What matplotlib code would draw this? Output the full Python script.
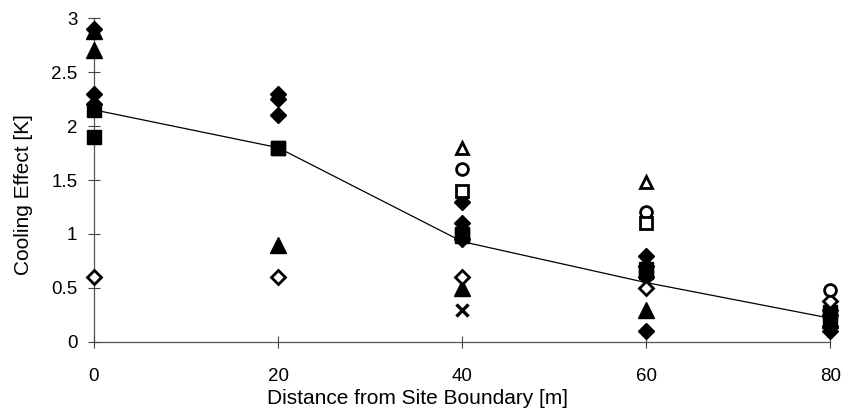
import numpy as np
import matplotlib
matplotlib.use("Agg")
import matplotlib.pyplot as plt

plt.rcParams['font.family'] = ['Liberation Sans', 'DejaVu Sans']

distance = [0, 20, 40, 60, 80]
nan = np.nan

# individual measurement series
s_diamond_a = [2.9, 2.3, 1.3, 0.8, 0.3]
s_diamond_b = [2.3, 2.25, 1.1, 0.7, 0.25]
s_diamond_c = [2.2, 2.1, 0.95, 0.6, 0.15]
s_diamond_d = [nan, nan, nan, 0.1, 0.1]
s_triangle_a = [2.88, nan, nan, nan, nan]
s_triangle_b = [2.7, 0.9, 0.5, 0.3, 0.2]
s_square_a = [2.15, 1.8, 1.0, 0.65, 0.28]
s_square_b = [1.9, 1.8, 0.98, 0.68, 0.22]
s_open_diamond = [0.6, 0.6, 0.6, 0.5, 0.38]
s_open_triangle = [nan, nan, 1.8, 1.48, nan]
s_open_circle = [nan, nan, 1.6, 1.2, 0.48]
s_open_square = [nan, nan, 1.4, 1.1, nan]
s_cross = [nan, nan, 0.3, nan, nan]

mean_line = [2.15, 1.8, 0.93, 0.55, 0.22]

x_ticks = [0, 20, 40, 60, 80]
y_ticks = [0, 0.5, 1, 1.5, 2, 2.5, 3]
y_tick_labels = ['0', '0.5', '1', '1.5', '2', '2.5', '3']

fig = plt.figure(figsize=(8.42, 4.11), dpi=100)
ax = fig.add_axes([0.1116, 0.168, 0.8744, 0.788])

ax.plot(distance, mean_line, color='black', lw=0.9, zorder=2)

filled = dict(linestyle='none', color='black', zorder=3)
ax.plot(distance, s_triangle_a, marker='^', ms=11, **filled)
ax.plot(distance, s_diamond_a, marker='D', ms=8.5, **filled)
ax.plot(distance, s_diamond_b, marker='D', ms=8.5, **filled)
ax.plot(distance, s_diamond_c, marker='D', ms=8.5, **filled)
ax.plot(distance, s_diamond_d, marker='D', ms=8.5, **filled)
ax.plot(distance, s_triangle_b, marker='^', ms=11, **filled)
ax.plot(distance, s_square_a, marker='s', ms=9.5, **filled)
ax.plot(distance, s_square_b, marker='s', ms=9.5, **filled)

opn = dict(linestyle='none', color='black', markerfacecolor='white', markeredgewidth=2.0, zorder=4)
ax.plot(distance, s_open_diamond, marker='D', ms=7, **opn)
ax.plot(distance, s_open_triangle, marker='^', ms=8.5, **opn)
ax.plot(distance, s_open_circle, marker='o', ms=8.5, **opn)
ax.plot(distance, s_open_square, marker='s', ms=8.5, **opn)
ax.plot(distance, s_cross, marker='x', ms=8.5, linestyle='none', color='black', markeredgewidth=2.4, zorder=4)

ax.set_xlim(0, 80)
ax.set_ylim(0, 3)
ax.set_xticks(x_ticks)
ax.set_yticks(y_ticks)
ax.set_yticklabels(y_tick_labels)
ax.tick_params(direction='inout', length=9, width=0.8, color='#444444', labelsize=13.5)
ax.tick_params(axis='y', pad=7.5)
ax.tick_params(axis='x', pad=14)

for side in ['top', 'right']:
    ax.spines[side].set_visible(False)
for side in ['left', 'bottom']:
    ax.spines[side].set_color('#555555')
    ax.spines[side].set_linewidth(0.9)
    ax.spines[side].set_zorder(1)

ax.set_xlabel('Distance from Site Boundary [m]', fontsize=15)
ax.set_ylabel('Cooling Effect [K]', fontsize=15)
ax.xaxis.set_label_coords(0.44, -0.145)
ax.yaxis.set_label_coords(-0.083, 0.454)

for line in ax.lines:
    line.set_clip_on(False)

fig.savefig('out.png', dpi=100)
